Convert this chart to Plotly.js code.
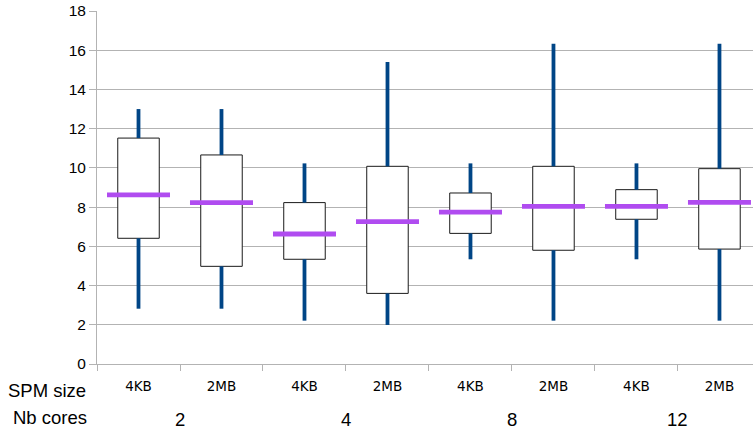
<!DOCTYPE html>
<html>
<head>
<meta charset="utf-8">
<script src="https://cdn.plot.ly/plotly-3.0.1.min.js"></script>
<style>html,body{margin:0;padding:0;background:#fff;}#chart{width:753px;height:433px;}</style>
</head>
<body>
<div id="chart"></div>
<script>
// Data
var cores = ['2', '2', '4', '4', '8', '8', '12', '12'];
var spmSize = ['4KB', '2MB', '4KB', '2MB', '4KB', '2MB', '4KB', '2MB'];
var whiskerLow = [2.82, 2.82, 2.21, 1.99, 5.34, 2.21, 5.34, 2.21];
var q1 = [6.41, 4.98, 5.34, 3.60, 6.66, 5.80, 7.38, 5.86];
var median = [8.62, 8.23, 6.63, 7.26, 7.74, 8.04, 8.04, 8.24];
var q3 = [11.52, 10.66, 8.23, 10.08, 8.72, 10.08, 8.89, 9.96];
var whiskerHigh = [13.0, 13.0, 10.23, 15.4, 10.23, 16.33, 10.23, 16.33];
var rowTitles = ['SPM size', 'Nb cores'];

var cats = cores.map(function (c, i) { return c + '|' + spmSize[i]; });
var font = 'Liberation Sans, Arial, sans-serif';
var zeros = cats.map(function () { return 0; });
var whiskerColor = '#004586';

var lowerWhiskers = {
  type: 'scatter', mode: 'markers', x: cats, y: q1,
  marker: {size: 1, color: 'rgba(0,0,0,0)'},
  error_y: {
    type: 'data', symmetric: false, array: zeros,
    arrayminus: whiskerLow.map(function (v, i) { return q1[i] - v; }),
    color: whiskerColor, thickness: 3.8, width: 0
  },
  hoverinfo: 'skip', showlegend: false
};
var upperWhiskers = {
  type: 'scatter', mode: 'markers', x: cats, y: q3,
  marker: {size: 1, color: 'rgba(0,0,0,0)'},
  error_y: {
    type: 'data', symmetric: false, arrayminus: zeros,
    array: whiskerHigh.map(function (v, i) { return v - q3[i]; }),
    color: whiskerColor, thickness: 3.8, width: 0
  },
  hoverinfo: 'skip', showlegend: false
};
var boxes = {
  type: 'bar', x: cats, base: q1,
  y: q3.map(function (v, i) { return v - q1[i]; }),
  width: 0.5,
  marker: {color: '#ffffff', line: {color: '#1a1a1a', width: 1}},
  showlegend: false
};
var medians = {
  type: 'scatter', mode: 'markers', x: cats, y: median,
  marker: {symbol: 'line-ew', size: 45, line: {color: '#b04cf0', width: 4.8}},
  showlegend: false
};

// group labels
var groups = [];
cores.forEach(function (c, i) {
  var g = groups.length ? groups[groups.length - 1] : null;
  if (g && g.name === c) { g.idx.push(i); } else { groups.push({name: c, idx: [i]}); }
});
var annotations = groups.map(function (g) {
  var pos = g.idx.reduce(function (a, b) { return a + b; }, 0) / g.idx.length;
  return {x: pos, xref: 'x', y: -0.158, yref: 'paper', yanchor: 'middle', xanchor: 'center',
    text: g.name, showarrow: false, font: {family: font, size: 18.5, color: '#000'}};
});
annotations.push({x: (88 - 97) / 656, xref: 'paper', y: -0.074, yref: 'paper', xanchor: 'right', yanchor: 'middle',
  text: rowTitles[0], showarrow: false, font: {family: font, size: 18.5, color: '#000'}});
annotations.push({x: (89 - 97) / 656, xref: 'paper', y: -0.152, yref: 'paper', xanchor: 'right', yanchor: 'middle',
  text: rowTitles[1], showarrow: false, font: {family: font, size: 18.5, color: '#000'}});

var layout = {
  width: 753, height: 433,
  margin: {l: 97, r: 0, t: 11, b: 69},
  paper_bgcolor: '#ffffff', plot_bgcolor: '#ffffff',
  barmode: 'overlay',
  showlegend: false,
  xaxis: {
    type: 'category', categoryorder: 'array', categoryarray: cats,
    tickvals: cats, ticktext: spmSize,
    tickson: 'boundaries', ticks: 'outside', ticklen: 6, tickcolor: '#b3b3b3',
    ticklabelstandoff: 10,
    showgrid: false, showline: true, linecolor: '#b3b3b3', linewidth: 1,
    range: [-0.5, 7.404],
    tickfont: {family: 'DejaVu Sans, sans-serif', size: 13.5, color: '#000'},
    zeroline: false, fixedrange: true
  },
  yaxis: {
    range: [0, 18], dtick: 2, tick0: 0,
    ticks: 'outside', ticklen: 7, tickcolor: '#b3b3b3',
    showgrid: true, gridcolor: '#b3b3b3', gridwidth: 1,
    showline: true, linecolor: '#b3b3b3', linewidth: 1,
    zeroline: false,
    tickfont: {family: font, size: 15.5, color: '#000'},
    fixedrange: true
  },
  annotations: annotations
};

Plotly.newPlot('chart', [lowerWhiskers, upperWhiskers, boxes, medians], layout, {displayModeBar: false, staticPlot: true});
</script>
</body>
</html>
